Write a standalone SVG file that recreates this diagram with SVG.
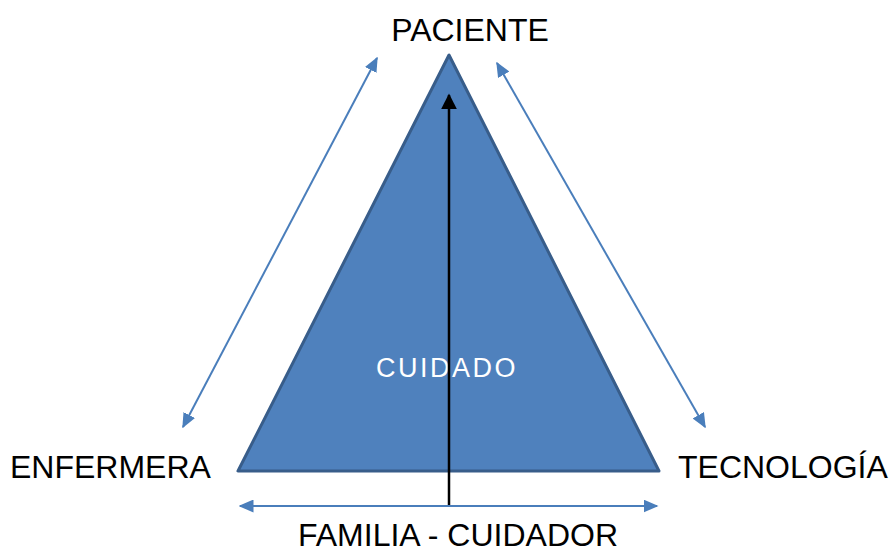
<svg xmlns="http://www.w3.org/2000/svg" width="889" height="553" viewBox="0 0 889 553">
<style>
.lbl{font-family:"Liberation Sans",Arial,sans-serif;font-size:32px;fill:#000}
.blue{stroke:#4A7EBB;stroke-width:2;fill:none}
</style>
<defs>
<marker id="bh" viewBox="0 0 10 10" refX="9" refY="5" markerWidth="15" markerHeight="13" markerUnits="userSpaceOnUse" orient="auto-start-reverse" preserveAspectRatio="none"><path d="M0,0 L10,5 L0,10 z" fill="#4A7EBB"/></marker>
<marker id="kh" viewBox="0 0 10 10" refX="9" refY="5" markerWidth="16" markerHeight="16" markerUnits="userSpaceOnUse" orient="auto"><path d="M0,0 L10,5 L0,10 z" fill="#000"/></marker>
</defs>
<rect width="889" height="553" fill="#fff"/>
<g id="triangle">
<polygon points="449,55 238,471 659,471" fill="#4F81BD" stroke="#385D8A" stroke-width="3" stroke-linejoin="round"/>
<text x="447" y="377" text-anchor="middle" font-family="Liberation Sans,Arial,sans-serif" font-size="27" letter-spacing="2.5" fill="#fff">CUIDADO</text>
</g>
<g id="paciente"><text class="lbl" x="470" y="41" text-anchor="middle">PACIENTE</text></g>
<g id="enfermera"><text class="lbl" x="10" y="478">ENFERMERA</text></g>
<g id="tecnologia"><text class="lbl" x="678" y="478" font-size="31.5">TECNOLOGÍA</text></g>
<g id="familia"><text class="lbl" x="458" y="546" text-anchor="middle">FAMILIA - CUIDADOR</text></g>
<g id="connectors">
<line class="blue" x1="183" y1="427" x2="377" y2="58" marker-start="url(#bh)" marker-end="url(#bh)"/>
<line class="blue" x1="705" y1="427" x2="497" y2="63" marker-start="url(#bh)" marker-end="url(#bh)"/>
<line class="blue" x1="240" y1="506" x2="657" y2="506" marker-start="url(#bh)" marker-end="url(#bh)"/>
<line x1="449" y1="505" x2="449" y2="95" stroke="#000" stroke-width="2.5" marker-end="url(#kh)"/>
</g>
</svg>
